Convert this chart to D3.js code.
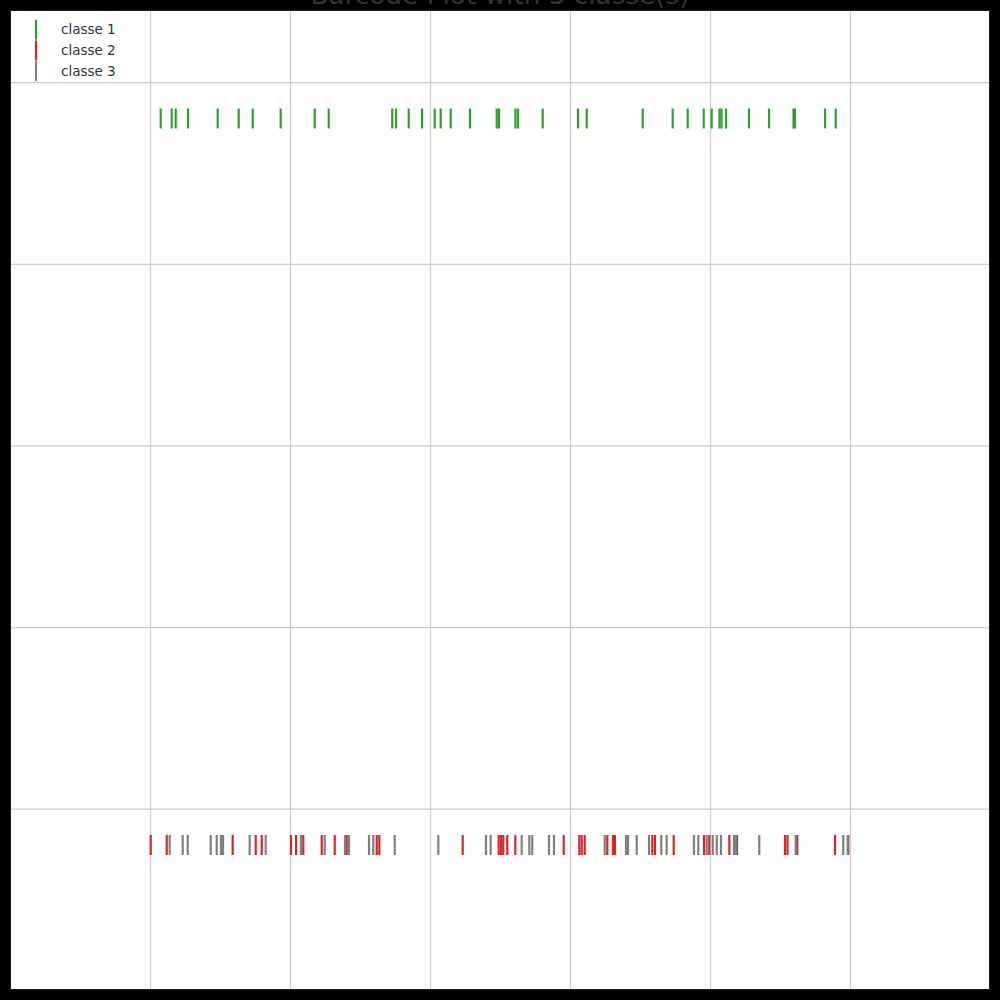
<!DOCTYPE html>
<html>
<head>
<meta charset="utf-8">
<script src="https://cdn.jsdelivr.net/npm/d3@7"></script>
<style>
html,body{margin:0;padding:0;background:#000;}
svg{display:block;}
text{font-family:"DejaVu Sans",sans-serif;}
</style>
</head>
<body>
<script>
const title = "Barcode Plot with 3 classe(s)";
const classNames = ["classe 1", "classe 2", "classe 3"];
const classColors = ["#2ca02c", "#d62728", "#7f7f7f"];
const classRows = [1, 0, 0];

const class1Values = [0.0153,0.0310,0.0367,0.0543,0.0967,0.1267,0.1467,0.1867,0.2353,0.2553,
  0.3461,0.3514,0.3696,0.3886,0.4067,0.4153,0.4296,0.4571,0.4953,0.4986,0.5221,0.5257,
  0.5610,0.6114,0.6239,0.7039,0.7467,0.7681,0.7910,0.8024,0.8136,0.8164,0.8229,0.8557,
  0.8843,0.9193,0.9214,0.9643,0.9796];
const class2Values = [0.0010,0.0239,0.1181,0.1510,0.1596,0.2014,0.2086,0.2190,0.2453,0.2639,
  0.2810,0.3239,0.3276,0.4467,0.4981,0.5014,0.5047,0.5104,0.5219,0.5910,0.6133,0.6167,
  0.6210,0.6533,0.6614,0.6643,0.7176,0.7214,0.7481,0.7914,0.7990,0.8276,0.8386,0.9071,
  0.9107,0.9247,0.9786,0.9976];
const class3Values = [0.0281,0.0467,0.0539,0.0867,0.0953,0.1014,0.1043,0.1424,0.1653,0.2157,
  0.2496,0.2786,0.2843,0.3129,0.3190,0.3496,0.4119,0.4800,0.4867,0.5310,0.5419,0.5461,
  0.5700,0.5771,0.6496,0.6800,0.6829,0.6953,0.7129,0.7304,0.7381,0.7771,0.7833,0.7953,
  0.8039,0.8096,0.8157,0.8343,0.8371,0.8704,0.9224,0.9904,0.9967];
const xTickValues = [0, 0.2, 0.4, 0.6, 0.8, 1.0];
const yTickValues = [0.05, 0.3, 0.55, 0.8, 1.05];

const allValues = [class1Values, class2Values, class3Values];

(function () {
const W = 1000, H = 1000;
const pL = 10, pR = 990, pT = 10, pB = 990;

const svg = d3.select("body").append("svg").attr("width", W).attr("height", H);
svg.append("rect").attr("width", W).attr("height", H).attr("fill", "#000");

const x = d3.scaleLinear().domain([-0.2, 1.2]).range([pL, pR]);
const y = d3.scaleLinear().domain([0, 1]).range([845, 118.5]);

svg.append("rect").attr("x", pL).attr("y", pT).attr("width", pR - pL).attr("height", pB - pT)
  .attr("fill", "#fff");

// grid
const gx = svg.append("g").attr("transform", `translate(0,${pB})`)
  .call(d3.axisBottom(x).tickValues(xTickValues).tickSize(-(pB - pT)).tickFormat(""));
gx.select(".domain").remove();
gx.selectAll("line").attr("stroke", "#cccccc").attr("stroke-width", 1.2);

const gy = svg.append("g").attr("transform", `translate(${pL},0)`)
  .call(d3.axisLeft(y).tickValues(yTickValues).tickSize(-(pR - pL)).tickFormat(""));
gy.select(".domain").remove();
gy.selectAll("line").attr("stroke", "#cccccc").attr("stroke-width", 1.2);

// barcodes
const half = 10;
allValues.forEach((vals, i) => {
  svg.append("g").selectAll("line").data(vals).join("line")
    .attr("x1", d => x(d)).attr("x2", d => x(d))
    .attr("y1", y(classRows[i]) - half).attr("y2", y(classRows[i]) + half)
    .attr("stroke", classColors[i]).attr("stroke-width", 2.2);
});

// frame
svg.append("rect").attr("x", pL + 0.5).attr("y", pT + 0.5).attr("width", pR - pL - 1).attr("height", pB - pT - 1)
  .attr("fill", "none").attr("stroke", "#222").attr("stroke-width", 1);

// legend
const lg = svg.append("g");
classNames.forEach((n, i) => {
  const cy = 29.7 + i * 20.7;
  lg.append("line").attr("x1", 36).attr("x2", 36).attr("y1", cy - 10).attr("y2", cy + 10)
    .attr("stroke", classColors[i]).attr("stroke-width", 2.2);
  lg.append("text").attr("x", 61).attr("y", cy + 4.5).attr("font-size", 13.5)
    .attr("fill", "#333").text(n);
});

// title
svg.append("text").attr("x", 500).attr("y", 4).attr("text-anchor", "middle")
  .attr("font-size", 26.3).attr("fill", "#333").text(title);
})();
</script>
</body>
</html>
